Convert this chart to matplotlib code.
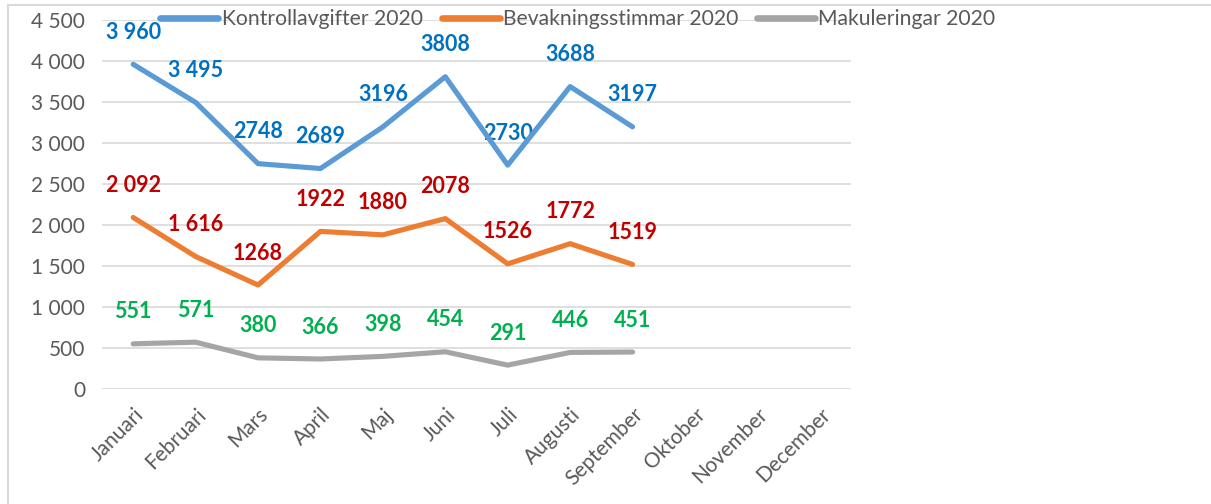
#Line chart of monthly counts 2020
import matplotlib.pyplot as plt
from matplotlib.lines import Line2D

plt.rcParams['font.family'] = ['Lato', 'DejaVu Sans']

#Data
months = ["Januari", "Februari", "Mars", "April", "Maj", "Juni", "Juli",
          "Augusti", "September", "Oktober", "November", "December"]
kontroll = [3960, 3495, 2748, 2689, 3196, 3808, 2730, 3688, 3197]
bevakning = [2092, 1616, 1268, 1922, 1880, 2078, 1526, 1772, 1519]
makulering = [551, 571, 380, 366, 398, 454, 291, 446, 451]

#Data labels as printed (some have a space separator, some not)
kontroll_labels = ["3 960", "3 495", "2748", "2689", "3196", "3808", "2730", "3688", "3197"]
bevakning_labels = ["2 092", "1 616", "1268", "1922", "1880", "2078", "1526", "1772", "1519"]
makulering_labels = ["551", "571", "380", "366", "398", "454", "291", "446", "451"]

series_names = ["Kontrollavgifter 2020", "Bevakningsstimmar 2020", "Makuleringar 2020"]
yticks = [0, 500, 1000, 1500, 2000, 2500, 3000, 3500, 4000, 4500]

#Excel style colours
line_colors = ["#5B9BD5", "#ED7D31", "#A5A5A5"]
label_colors = ["#0070C0", "#C00000", "#00B050"]
text_grey = "#595959"

fig = plt.figure(figsize=(12.11, 5.04), dpi=100)
ax = fig.add_axes([102/1211, 1 - 389/504, (851 - 102)/1211, (389 - 20)/504])

x = list(range(len(months)))
all_series = [(kontroll, kontroll_labels), (bevakning, bevakning_labels), (makulering, makulering_labels)]

for (vals, labs), lc, tc, name in zip(all_series, line_colors, label_colors, series_names):
    xs = x[:len(vals)]
    ax.plot(xs, vals, color=lc, lw=3.7, solid_joinstyle="round",
            solid_capstyle="round", label=name, zorder=3)
    #Value labels above each point (drawn under the lines)
    for xi, v, s in zip(xs, vals, labs):
        ax.annotate(s, (xi, v), xytext=(0, 23), textcoords="offset points",
                    ha="center", va="center", color=tc, fontsize=15.5,
                    fontweight="bold", zorder=2)

#Axes
ax.set_xlim(-0.5, len(months) - 0.5)
ax.set_ylim(0, 4500)
ax.set_yticks(yticks)
ax.set_yticklabels([f"{t:,}".replace(",", " ") for t in yticks])
ax.set_xticks(x)
ax.set_xticklabels(months, rotation=45, ha="right", rotation_mode="anchor")
ax.tick_params(length=0, labelsize=15, labelcolor=text_grey)
ax.tick_params(axis="y", pad=12)
ax.tick_params(axis="x", pad=11)

#Gridlines
ax.grid(axis="y", color="#D9D9D9", lw=1.2, zorder=0)
ax.set_axisbelow(True)
for sp in ax.spines.values():
    sp.set_visible(False)

#Legend on top
handles = [Line2D([], [], color=c, lw=4.8, solid_capstyle="round") for c in line_colors]
fig.legend(handles, series_names, loc="center", bbox_to_anchor=(578/1211, 1 - 19/504),
           ncol=3, frameon=False, fontsize=15.2, handlelength=2.75, handletextpad=0.15,
           columnspacing=0.9, labelcolor=text_grey, borderpad=0)

#Light chart frame (top and left edges)
fig.add_artist(Line2D([8/1211, 1], [1 - 5/504, 1 - 5/504], color="#D9D9D9", lw=1.5,
                      transform=fig.transFigure))
fig.add_artist(Line2D([8/1211, 8/1211], [0, 1 - 5/504], color="#D9D9D9", lw=1.5,
                      transform=fig.transFigure))

plt.savefig("out.png", dpi=100)
plt.close(fig)
